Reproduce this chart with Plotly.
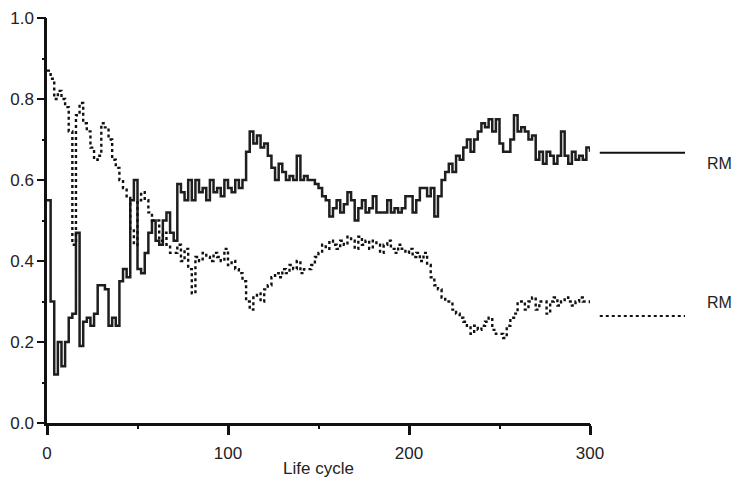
import plotly.graph_objects as go

# Life cycle sampled every 2 cycles
cycles = list(range(0, 301, 2))

rm_solid = [
    0.55, 0.30, 0.12, 0.20, 0.14, 0.20, 0.26, 0.27, 0.47, 0.19,
    0.25, 0.26, 0.24, 0.27, 0.34, 0.34, 0.33, 0.24, 0.26, 0.24,
    0.35, 0.38, 0.36, 0.55, 0.60, 0.38, 0.37, 0.42, 0.47, 0.50,
    0.45, 0.44, 0.50, 0.52, 0.47, 0.45, 0.59, 0.57, 0.55, 0.60,
    0.55, 0.60, 0.57, 0.58, 0.55, 0.60, 0.57, 0.58, 0.56, 0.60,
    0.58, 0.57, 0.60, 0.58, 0.60, 0.67, 0.72, 0.69, 0.71, 0.68,
    0.69, 0.66, 0.63, 0.60, 0.64, 0.62, 0.60, 0.61, 0.60, 0.66,
    0.60, 0.61, 0.60, 0.60, 0.59, 0.58, 0.56, 0.55, 0.51, 0.53,
    0.55, 0.52, 0.54, 0.57, 0.55, 0.50, 0.53, 0.55, 0.52, 0.53,
    0.56, 0.52, 0.52, 0.52, 0.55, 0.52, 0.53, 0.52, 0.53, 0.56,
    0.56, 0.52, 0.55, 0.58, 0.58, 0.56, 0.58, 0.51, 0.56, 0.60,
    0.62, 0.64, 0.62, 0.66, 0.65, 0.68, 0.70, 0.67, 0.70, 0.72,
    0.74, 0.73, 0.75, 0.72, 0.75, 0.69, 0.67, 0.67, 0.70, 0.76,
    0.72, 0.73, 0.72, 0.70, 0.71, 0.65, 0.67, 0.64, 0.67, 0.66,
    0.64, 0.66, 0.72, 0.66, 0.64, 0.67, 0.65, 0.66, 0.65, 0.68,
    0.67,
]

rm_dotted = [
    0.87, 0.85, 0.80, 0.82, 0.80, 0.78, 0.72, 0.44, 0.76, 0.79,
    0.74, 0.72, 0.68, 0.65, 0.66, 0.74, 0.73, 0.70, 0.65, 0.63,
    0.60, 0.58, 0.56, 0.48, 0.44, 0.55, 0.57, 0.55, 0.52, 0.50,
    0.50, 0.45, 0.47, 0.44, 0.42, 0.42, 0.44, 0.40, 0.43, 0.38,
    0.32, 0.41, 0.40, 0.42, 0.41, 0.40, 0.42, 0.41, 0.40, 0.43,
    0.39, 0.40, 0.38, 0.37, 0.35, 0.30, 0.28, 0.31, 0.32, 0.30,
    0.33, 0.34, 0.36, 0.37, 0.36, 0.38, 0.37, 0.39, 0.38, 0.40,
    0.37, 0.38, 0.38, 0.39, 0.41, 0.42, 0.44, 0.43, 0.45, 0.44,
    0.43, 0.45, 0.44, 0.46, 0.45, 0.43, 0.46, 0.44, 0.45, 0.43,
    0.45, 0.44, 0.42, 0.44, 0.45, 0.43, 0.42, 0.44, 0.43, 0.42,
    0.43, 0.41, 0.42, 0.40, 0.42, 0.39, 0.36, 0.34, 0.33, 0.31,
    0.30, 0.30, 0.28, 0.27, 0.26, 0.25, 0.24, 0.22, 0.24, 0.23,
    0.24, 0.25, 0.26, 0.23, 0.22, 0.22, 0.21, 0.24, 0.26, 0.27,
    0.30, 0.30, 0.28, 0.30, 0.31, 0.28, 0.30, 0.30, 0.27, 0.30,
    0.31, 0.29, 0.30, 0.31, 0.30, 0.29, 0.30, 0.31, 0.30, 0.30,
    0.29,
]

legend_labels = ["RM", "RM"]

fig = go.Figure()
fig.add_trace(go.Scatter(
    x=cycles, y=rm_solid, mode="lines", line_shape="hv",
    line=dict(color="#1e1e1e", width=2.5), showlegend=False,
))
fig.add_trace(go.Scatter(
    x=cycles, y=rm_dotted, mode="lines", line_shape="hv",
    line=dict(color="#111111", width=2.4, dash="dot"), showlegend=False,
))
# Invisible trace on the overlay axes that carry the small ticks
fig.add_trace(go.Scatter(
    x=[0, 300], y=[0, 1], xaxis="x2", yaxis="y2", mode="lines",
    line=dict(width=0), hoverinfo="skip", showlegend=False,
))

# Line keys drawn to the right of the plot area
fig.add_shape(type="line", xref="paper", yref="paper",
              x0=1.018, x1=1.175, y0=0.667, y1=0.667,
              line=dict(color="#111111", width=2))
fig.add_shape(type="line", xref="paper", yref="paper",
              x0=1.018, x1=1.175, y0=0.264, y1=0.264,
              line=dict(color="#111111", width=2, dash="dot"))
label_font = dict(family="Liberation Sans, Arial, sans-serif", size=16, color="#222")
fig.add_annotation(xref="paper", yref="paper", x=1.212, y=0.667,
                   text=legend_labels[0], showarrow=False, xanchor="left",
                   font=label_font)
fig.add_annotation(xref="paper", yref="paper", x=1.212, y=0.272,
                   text=legend_labels[1], showarrow=False, xanchor="left",
                   font=label_font)

axis_font = dict(family="Liberation Sans, Arial, sans-serif", size=17, color="#222")

fig.update_layout(
    width=737, height=479,
    margin=dict(l=47, r=147, t=18, b=56),
    paper_bgcolor="white", plot_bgcolor="white",
    font=dict(family="Liberation Sans, Arial, sans-serif"),
    xaxis=dict(
        range=[0, 300], tickmode="linear", tick0=0, dtick=100,
        showline=True, linecolor="#111", linewidth=2.5, automargin=False,
        ticks="outside", ticklen=9, tickwidth=2.5, tickcolor="#111",
        ticklabelstandoff=4,
        showgrid=False, zeroline=False, tickfont=axis_font,
        title=dict(text="Life cycle", standoff=0,
                   font=dict(family="Liberation Sans, Arial, sans-serif",
                             size=17, color="#222")),
    ),
    yaxis=dict(
        range=[0, 1], tickmode="linear", tick0=0, dtick=0.2, tickformat=".1f",
        showline=True, linecolor="#111", linewidth=2.5, automargin=False,
        ticks="outside", ticklen=7, tickwidth=2, tickcolor="#111",
        showgrid=False, zeroline=False, tickfont=axis_font,
    ),
    xaxis2=dict(
        overlaying="x", matches="x", range=[0, 300], side="bottom",
        tickmode="linear", tick0=0, dtick=50, automargin=False,
        ticks="outside", ticklen=5, tickwidth=2, tickcolor="#111",
        showticklabels=False, showgrid=False, zeroline=False, showline=False,
    ),
    yaxis2=dict(
        overlaying="y", matches="y", range=[0, 1], side="left",
        tickmode="linear", tick0=0, dtick=0.1, automargin=False,
        ticks="outside", ticklen=4, tickwidth=2, tickcolor="#111",
        showticklabels=False, showgrid=False, zeroline=False, showline=False,
    ),
)

fig.write_html("out.html")
